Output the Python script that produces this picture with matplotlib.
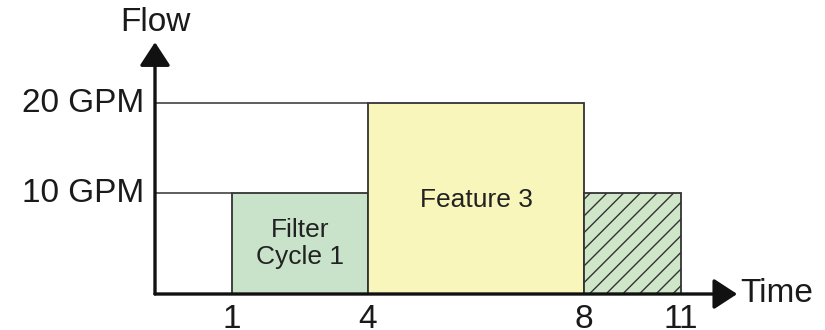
import numpy as np
import matplotlib.pyplot as plt

plt.rcParams['font.family'] = ['Liberation Sans', 'DejaVu Sans']
plt.rcParams['hatch.linewidth'] = 1.0

# blocks on the timeline: start, end, flow (GPM)
labels = ["Filter\nCycle 1", "Feature 3", ""]
starts = [1, 4, 8]
ends = [4, 8, 11]
flows = [10, 20, 10]
colors = ["#c9e3ca", "#f8f6ba", "#cfe6c9"]
hatches = [None, None, "//"]
label_y = [5.0, 9.3, 0]

x_ticks = [1, 4, 8, 11]
y_ticks = [10, 20]
y_ticklabels = ["10 GPM", "20 GPM"]

# the schematic is not drawn to scale, so use piecewise scales
x_data = [-2, 0, 1, 4, 8, 11, 13]
x_pix = [0, 155, 232, 368, 584, 681, 825]
y_data = [-4, 0, 10, 20, 30]
y_pix = [0, 36, 137, 227, 330]


def fx(v):
    return np.interp(v, x_data, x_pix)


def ix(v):
    return np.interp(v, x_pix, x_data)


def fy(v):
    return np.interp(v, y_data, y_pix)


def iy(v):
    return np.interp(v, y_pix, y_data)


fig = plt.figure(figsize=(8.25, 3.3), dpi=100)
ax = fig.add_axes([0, 0, 1, 1])
ax.set_xscale('function', functions=(fx, ix))
ax.set_yscale('function', functions=(fy, iy))
ax.set_xlim(-2, 13)
ax.set_ylim(-4, 30)

edge = "#333333"
txt = "#1a1a1a"
for lab, s, e, f, c, h, ty in zip(labels, starts, ends, flows, colors, hatches, label_y):
    ax.bar(s, f, width=e - s, align='edge', color=c, edgecolor=edge,
           linewidth=1.3, hatch=h, zorder=2)
    if lab:
        ax.text((s + e) / 2, ty, lab, ha='center', va='center',
                fontsize=19, color="#222222", linespacing=1.15, zorder=3)

# guide lines from the flow axis
ax.hlines(20, 0, 4, color=edge, lw=1.1, zorder=1)
ax.hlines(10, 0, 1, color=edge, lw=1.1, zorder=1)

# axes with arrow heads
arrow = dict(arrowstyle='-|>,head_length=0.72,head_width=0.47',
             color='#111111', lw=2.4, mutation_scale=20, shrinkA=0, shrinkB=0)
ax.annotate('', xy=(0, 25.9), xytext=(0, 0), arrowprops=arrow, zorder=4)
ax.annotate('', xy=(11.78, 0), xytext=(0, 0), arrowprops=arrow, zorder=4)

for t in x_ticks:
    ax.annotate(str(t), (t, 0), xytext=(0, -7), textcoords='offset points',
                ha='center', va='top', fontsize=24, color=txt)
for t, lab in zip(y_ticks, y_ticklabels):
    ax.annotate(lab, (0, t), xytext=(-8, 0), textcoords='offset points',
                ha='right', va='center', fontsize=24, color=txt)

ax.annotate("Time", (11.78, 0), xytext=(2, 0), textcoords='offset points',
            ha='left', va='center', fontsize=24, color=txt)
ax.annotate("Flow", (0, 25.9), xytext=(0, 14), textcoords='offset points',
            ha='center', va='center', fontsize=24, color=txt)

ax.axis('off')
fig.savefig("out.png", dpi=100)
